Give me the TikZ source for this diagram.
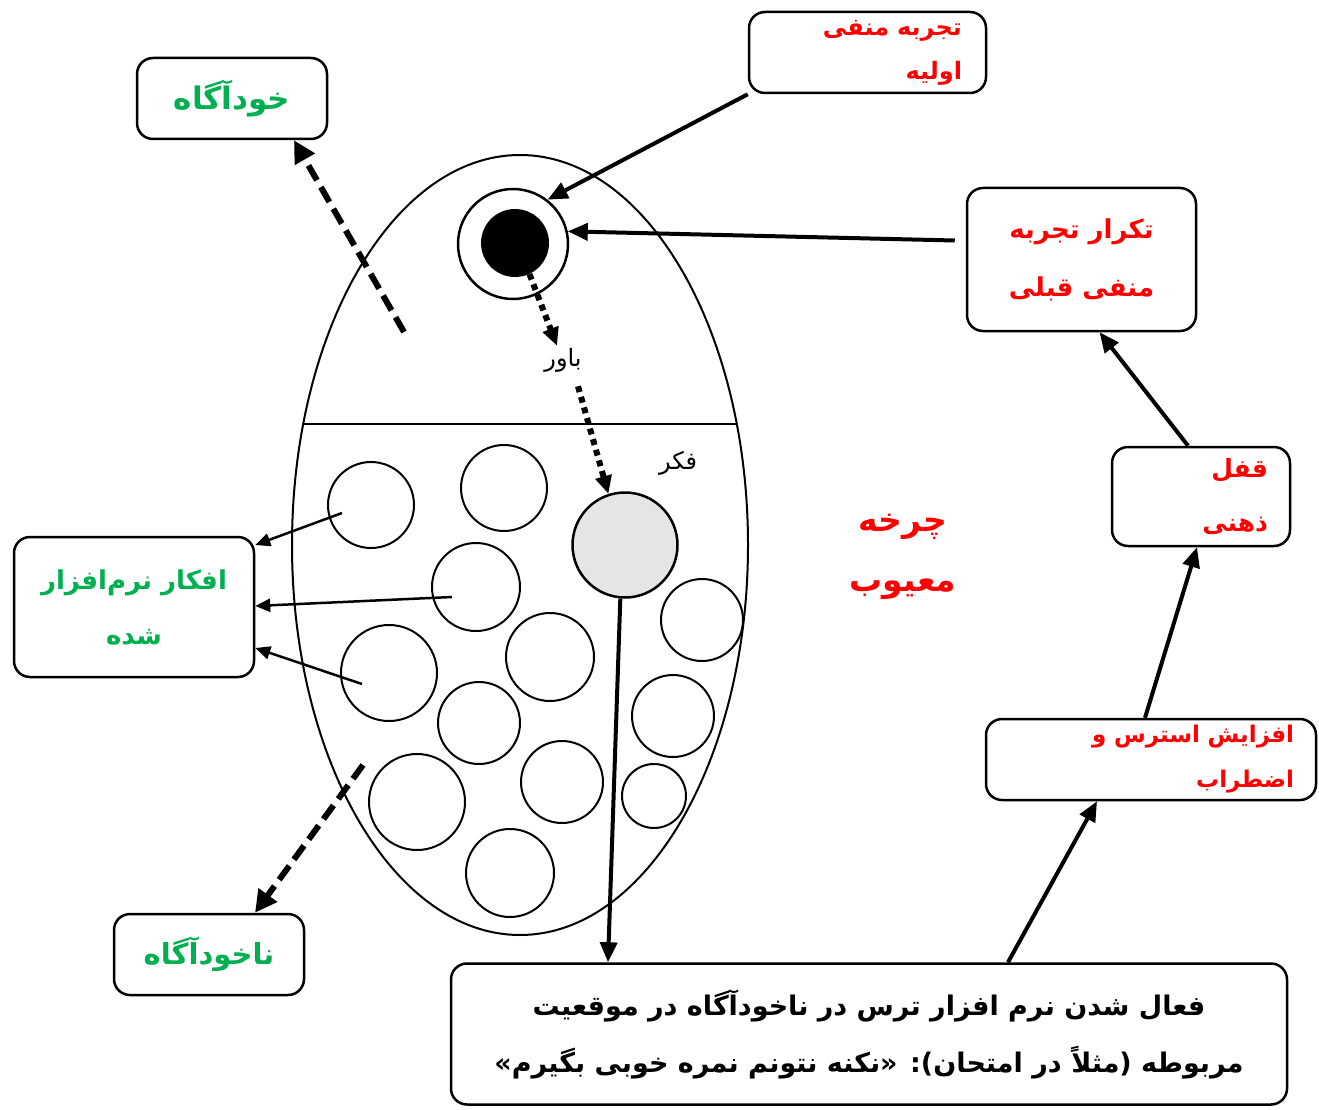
\documentclass[tikz,border=0pt]{standalone}
\usepackage{fontspec}
\usetikzlibrary{arrows.meta,shapes.geometric,calc}
\newfontfamily\fa[Script=Arabic]{DejaVu Sans}
\TeXXeTstate=1
\definecolor{fred}{RGB}{255,0,0}
\definecolor{fgreen}{RGB}{0,176,80}
\newcommand{\faR}[1]{\beginR #1\endR}
\begin{document}
\begin{tikzpicture}[x=1pt,y=-1pt,
  box/.style={draw, rounded corners=16pt, line width=2.5pt, inner ysep=0pt},
  redtxt/.style={text=fred, font={\fa\bfseries\fontsize{24}{44}\selectfont}},
  greentxt/.style={text=fgreen, font={\fa\bfseries\fontsize{29}{52}\selectfont}},
  circ/.style={draw, circle, line width=2pt, inner sep=0pt, minimum size=#1},
  bigarrow/.style={line width=4pt, -{Triangle[length=20pt,width=17pt]}},
  thinarrow/.style={line width=2.5pt, -{Triangle[length=15pt,width=13pt]}},
  dasharrow/.style={line width=6pt, dash pattern=on 17pt off 8pt, -{Triangle[length=22pt,width=22pt]}},
  dotarrow/.style={line width=6pt, dash pattern=on 6pt off 5pt, -{Triangle[length=18pt,width=16pt]}},
  small/.style={font={\fa\fontsize{24}{26}\selectfont}, inner sep=2pt}
]
\fill[white] (0,0) rectangle (1319,1110);
\useasboundingbox (0,0) rectangle (1319,1110);

% mind ellipse
\draw[line width=2pt] (520,545) ellipse [x radius=228, y radius=390];
\draw[line width=2pt] (303,424) -- (737,424);

% thought circles
\node[circ=86] (c1) at (371,505) {};
\node[circ=86] (c2) at (504,488) {};
\node[circ=88] (c3) at (476,587) {};
\node[circ=96] (c4) at (389,673) {};
\node[circ=88] (c5) at (550,657) {};
\node[circ=82] (c6) at (702,620) {};
\node[circ=82] (c7) at (479,723) {};
\node[circ=82] (c8) at (673,716) {};
\node[circ=96] (c9) at (417,802) {};
\node[circ=82] (c10) at (562,782) {};
\node[circ=64] (c11) at (654,796) {};
\node[circ=88] (c12) at (510,873) {};

\node[draw, circle, line width=2.5pt, minimum size=110, inner sep=0pt] (inner) at (513,244) {};
\node[fill=black, circle, minimum size=68, inner sep=0pt] (core) at (515,243) {};
\node[draw, circle, fill=black!10, line width=2.5pt, minimum size=105, inner sep=0pt] (gray) at (625,545) {};

\node[small] (bel) at (563,360) {\faR{باور}};
\node[small] (thk) at (678,463) {\faR{فکر}};

% boxes
\node[box, redtxt, minimum height=81, inner xsep=24pt, text width=189pt, align=right] (exp1) at (867.5,52.5) {\faR{تجربه منفی}\\\faR{اولیه}};
\node[box, greentxt, minimum height=81, minimum width=190, align=center, font={\fa\bfseries\fontsize{31}{52}\selectfont}] (self) at (232,98.5) {\faR{خودآگاه}};
\node[box, redtxt, minimum height=143, minimum width=229, align=center, font={\fa\bfseries\fontsize{26}{58}\selectfont}] (rep) at (1081.5,259.5) {\faR{تکرار تجربه}\\\faR{منفی قبلی}};
\node[box, redtxt, minimum height=99, inner xsep=22pt, text width=134pt, align=right, font={\fa\bfseries\fontsize{25}{54}\selectfont}] (lock) at (1201,496.5) {\faR{قفل}\\\faR{ذهنی}};
\node[box, redtxt, minimum height=81, inner xsep=22pt, text width=286pt, align=right, font={\fa\bfseries\fontsize{23}{45}\selectfont}] (stress) at (1151,759.5) {\faR{افزایش استرس و}\\\faR{اضطراب}};
\node[box, greentxt, minimum height=140, minimum width=240, align=center, font={\fa\bfseries\fontsize{26}{55}\selectfont}] (soft) at (134,607) {\faR{افکار نرم^^^^200cافزار}\\\faR{شده}};
\node[box, greentxt, minimum height=81, minimum width=190, align=center] (unself) at (209,954.5) {\faR{ناخودآگاه}};
\node[box, minimum height=141, minimum width=836, align=center, font={\fa\bfseries\fontsize{27}{57}\selectfont}] (bot) at (869,1034) {\faR{فعال شدن نرم افزار ترس در ناخودآگاه در موقعیت}\\\faR{مربوطه (مثلاً در امتحان): «نکنه نتونم نمره خوبی بگیرم»}};

\node[text=fred, font={\fa\bfseries\fontsize{33}{60}\selectfont}, align=center] (cyc) at (903,557) {\faR{چرخه}\\\faR{معیوب}};

% connectors
\draw[bigarrow] (exp1.south west) -- (inner.52);
\draw[bigarrow] ([xshift=-11pt,yshift=19pt]rep.west) -- (inner.13);
\draw[bigarrow] ([xshift=-13pt]lock.north) -- ([xshift=18pt]rep.south);
\draw[bigarrow] ([xshift=-6pt]stress.north) -- ([xshift=-4pt]lock.south);
\draw[bigarrow] ([xshift=139pt]bot.north) -- ([xshift=-54pt]stress.south);
\draw[bigarrow] (gray.265) -- ([xshift=-261pt]bot.north);

\coordinate (ds1) at (404,332);
\draw[dasharrow] (ds1) -- ([xshift=62pt]self.south);
\coordinate (ds2) at (363,765);
\draw[dasharrow] (ds2) -- ([xshift=46pt]unself.north);

\draw[dotarrow] (core.-65) -- ([xshift=-6pt]bel.north);
\draw[dotarrow] ([xshift=15pt,yshift=-12pt]bel.south) -- (gray.108);

\coordinate (s1) at (342,513);
\coordinate (s2) at (452,597);
\coordinate (s3) at (362,684);
\draw[thinarrow] (s1) -- ([yshift=62pt]soft.east);
\draw[thinarrow] (s2) -- ([yshift=1pt]soft.east);
\draw[thinarrow] (s3) -- ([yshift=-41pt]soft.east);
\end{tikzpicture}
\end{document}
